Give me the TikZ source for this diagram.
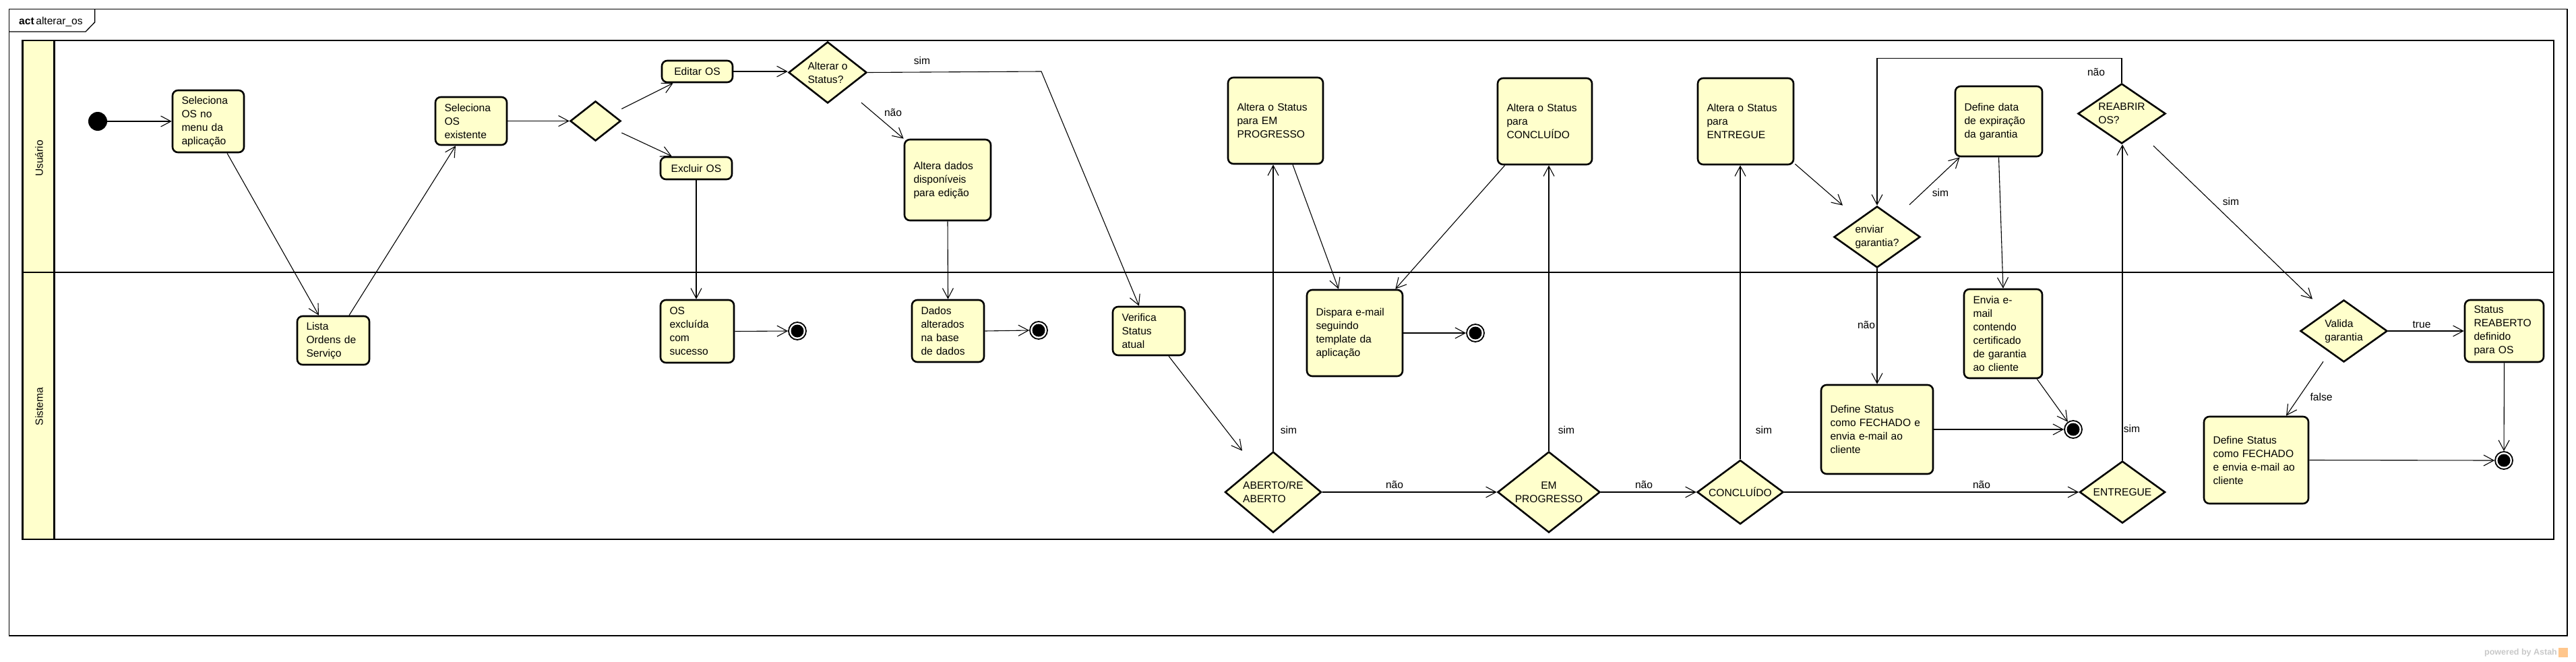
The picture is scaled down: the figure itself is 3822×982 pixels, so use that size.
\documentclass[tikz,border=0pt]{standalone}
\usepackage{fontspec}
\setmainfont{Liberation Sans}
\usetikzlibrary{arrows.meta,shapes.geometric,calc}
\definecolor{uyel}{HTML}{FFFFCC}
\definecolor{wm}{HTML}{C8C8C8}
\newcommand\af{\fontsize{15.6}{20}\selectfont}
\newcommand\LL[1]{\mbox{#1}}
\begin{document}
\begin{tikzpicture}[x=1pt,y=-1pt,
  act/.style={draw, line width=2.6pt, rounded corners=8pt, fill=uyel, inner xsep=13.5pt, inner ysep=0pt, align=left, font=\af},
  actc/.style={act, align=center},
  dia/.style={diamond, draw, line width=2.6pt, fill=uyel, inner sep=0pt},
  lbl/.style={font=\af, inner sep=0pt},
  conn/.style={line width=1.1pt, -{Straight Barb[length=15pt,width=16pt]}},
  initnode/.style={circle, fill=black, minimum size=28pt, inner sep=0pt},
  finnode/.style={circle, draw=black, line width=1.8pt, fill=white, minimum size=26pt, inner sep=0pt,
     path picture={\fill[black] (path picture bounding box.center) circle[radius=9.5pt];}},
]
\useasboundingbox (0,0) rectangle (3822,982);
% frame
\draw[line width=1.3pt] (13.4,13.3) rectangle (3809,943);
\draw[line width=1.3pt] (13.4,47) -- (127,47) -- (140.6,33) -- (140.6,13.3);
\node[lbl, anchor=base west] (title) at (28,37) {\textbf{act}\,alterar\_os};
% lanes
\fill[uyel] (33.5,60) rectangle (80.4,800);
\draw[line width=2.6pt] (33.5,60) rectangle (3789,800);
\draw[line width=2.6pt] (80.4,60) -- (80.4,800);
\draw[line width=2.6pt] (33.5,404) -- (3789,404);
\node[lbl, rotate=90] (lu) at (58,235) {Usuário};
\node[lbl, rotate=90] (ls) at (58,603) {Sistema};
% watermark
\node[font=\bfseries\fontsize{12.5}{14}\selectfont, text=wm, anchor=east, inner sep=0pt] (wmk) at (3794,968) {powered by Astah};
\fill[orange!45] (3796,961) rectangle (3810,975);

% nodes
\node[initnode] (ini) at (145,180) {};
\node[act, text width=79pt, minimum height=92pt] (sel1) at (309,180) {Seleciona\\\LL{OS no}\\\LL{menu da}\\aplicação};
\node[act, text width=80pt, minimum height=72pt] (lista) at (494.5,505) {Lista\\\LL{Ordens de}\\Serviço};
\node[act, text width=79pt, minimum height=71pt] (sel2) at (699,179.5) {Seleciona\\OS\\existente};
\node[dia, minimum width=75pt, minimum height=59pt] (dec1) at (883.5,179.5) {};
\node[actc, text width=78pt, minimum height=32pt] (editar) at (1034.5,106) {\LL{Editar OS}};
\node[actc, text width=79pt, minimum height=33pt] (excluir) at (1033,249.5) {\LL{Excluir OS}};
\node[act, text width=82pt, minimum height=93pt] (excl) at (1034.5,491.5) {OS\\excluída\\com\\sucesso};
\node[finnode] (fin1) at (1183,491) {};
\node[dia, minimum width=116pt, minimum height=91pt, label={[lbl,align=left]center:{Alterar o\\Status?}}] (dAlt) at (1228,107.5) {};
\node[act, text width=101pt, minimum height=120pt] (altd) at (1406,267) {\LL{Altera dados}\\disponíveis\\\LL{para edição}};
\node[act, text width=80pt, minimum height=92pt] (dados) at (1406.5,491) {Dados\\alterados\\\LL{na base}\\\LL{de dados}};
\node[finnode] (fin2) at (1541,490) {};
\node[act, text width=80pt, minimum height=72pt] (verif) at (1704.5,491) {Verifica\\Status\\atual};
\node[dia, minimum width=143pt, minimum height=120pt, label={[lbl,align=left]center:{ABERTO/RE\\ABERTO}}] (dAb) at (1889,730) {};
\node[act, text width=114pt, minimum height=128pt] (emprog) at (1892.5,179) {\LL{Altera o Status}\\\LL{para EM}\\PROGRESSO};
\node[act, text width=115pt, minimum height=128pt] (disp) at (2010,494) {\LL{Dispara e-mail}\\seguindo\\\LL{template da}\\aplicação};
\node[finnode] (fin3) at (2189,494) {};
\node[dia, minimum width=152pt, minimum height=120pt, label={[lbl,align=center]center:{EM\\PROGRESSO}}] (dEm) at (2298,730) {};
\node[act, text width=113pt, minimum height=128pt] (conc) at (2292,180) {\LL{Altera o Status}\\para\\CONCLUÍDO};
\node[dia, minimum width=128pt, minimum height=95pt, label={[lbl]center:CONCLUÍDO}] (dConc) at (2582,730) {};
\node[act, text width=115pt, minimum height=128pt] (entr) at (2590,180) {\LL{Altera o Status}\\para\\ENTREGUE};
\node[dia, minimum width=128pt, minimum height=91pt, label={[lbl,align=left]center:{enviar\\garantia?}}] (dEnv) at (2785,351.5) {};
\node[act, text width=102pt, minimum height=104pt] (defd) at (2965.5,180) {\LL{Define data}\\\LL{de expiração}\\\LL{da garantia}};
\node[act, text width=89pt, minimum height=132pt] (envia) at (2972,495) {\LL{Envia e-}\\mail\\contendo\\certificado\\\LL{de garantia}\\\LL{ao cliente}};
\node[act, text width=139pt, minimum height=132pt] (fech1) at (2785,637) {\LL{Define Status}\\\LL{como FECHADO e}\\\LL{envia e-mail ao}\\cliente};
\node[finnode] (fin4) at (3076,637) {};
\node[dia, minimum width=130pt, minimum height=89pt, label={[lbl,align=left]center:{REABRIR\\OS?}}] (dReab) at (3148,168.5) {};
\node[dia, minimum width=127pt, minimum height=92pt, label={[lbl]center:ENTREGUE}] (dEntr) at (3149,730) {};
\node[dia, minimum width=129pt, minimum height=92pt, label={[lbl,align=left]center:{Valida\\garantia}}] (dVal) at (3477.5,491) {};
\node[act, text width=90pt, minimum height=92pt] (reab) at (3715.5,491) {Status\\REABERTO\\definido\\\LL{para OS}};
\node[finnode] (fin5) at (3715,683) {};
\node[act, text width=128pt, minimum height=129pt] (fech2) at (3347.5,682.5) {\LL{Define Status}\\\LL{como FECHADO}\\\LL{e envia e-mail ao}\\cliente};

% connectors
\draw[conn] (ini.east) -- (sel1.west);
\draw[conn] ($(sel1.south)+(28,0)$) -- ($(lista.north)+(-21.5,0)$);
\draw[conn] ($(lista.north)+(23.5,0)$) -- ($(sel2.south)+(-23,0)$);
\draw[conn] (sel2.east) -- (dec1.west);
\draw[conn] ($(dec1.east)+(0,-18)$) -- ($(editar.south west)+(18,0)$);
\draw[conn] ($(dec1.east)+(0,17.5)$) -- ($(excluir.north west)+(18,0)$);
\draw[conn] (editar.east) -- (editar.east -| dAlt.west);
\draw[conn] (excluir.south) -- (excluir.south |- excl.north);
\draw[conn] (excl.east) -- (fin1.west);
\draw[conn] ($(dAlt.south)+(50,-2)$) -- (altd.north west);
\coordinate (b1) at (1545,106);
\draw[conn] (dAlt.east) -- (b1) -- ($(verif.north)+(-14.5,0)$);
\draw[conn] (altd.south) -- (dados.north);
\draw[conn] (dados.east) -- (fin2.west);
\draw[conn] ($(verif.south)+(29.5,0)$) -- ($(dAb.north)+(-46,0)$);
\draw[conn] (dAb.north) -- (dAb.north |- emprog.south);
\draw[conn] (dAb.east) -- (dEm.west);
\draw[conn] ($(emprog.south)+(25.5,0)$) -- ($(disp.north)+(-24,0)$);
\draw[conn] ($(conc.south west)+(12,0)$) -- ($(disp.north east)+(-12,0)$);
\draw[conn] (disp.east) -- (fin3.west);
\draw[conn] (dEm.north) -- (dEm.north |- conc.south);
\draw[conn] (dEm.east) -- (dConc.west);
\draw[conn] (dConc.north) -- (dConc.north |- entr.south);
\draw[conn] (dConc.east) -- (dEntr.west);
\draw[conn] ($(entr.south east)+(1,-2)$) -- ($(dEnv.north)+(-51,0)$);
\draw[conn] ($(dEnv.north)+(48,-1)$) -- ($(defd.south west)+(8,0)$);
\draw[conn] (dEnv.south) -- (fech1.north);
\draw[conn] (defd.south) -- (envia.north);
\draw[conn] ($(envia.south east)+(-9,0)$) -- (fin4);
\draw[conn] (fech1.east) -- (fin4.west);
\draw[conn] (dEntr.north) -- (dEntr.north |- dReab.south);
\draw[conn] (dReab.north) -- ++(0,-36) -| (dEnv.north);
\draw[conn] ($(dReab.south)+(47,2)$) -- ($(dVal.north)+(-46.5,0)$);
\draw[conn] (dVal.east) -- (reab.west);
\draw[conn] ($(dVal.south)+(-30.5,-2)$) -- ($(fech2.north)+(44.5,0)$);
\draw[conn] (reab.south) -- (fin5.north);
\draw[conn] (fech2.east) -- (fin5.west);

% labels
\node[lbl] (s1) at (1368,90) {sim};
\node[lbl] (n1) at (1325,167) {não};
\node[lbl] (s2) at (1912,638) {sim};
\node[lbl] (n2) at (2069,719) {não};
\node[lbl] (s3) at (2324,638) {sim};
\node[lbl] (n3) at (2439,719) {não};
\node[lbl] (s4) at (2617,638) {sim};
\node[lbl] (n4) at (2940,719) {não};
\node[lbl] (n5) at (2769,482) {não};
\node[lbl] (s5) at (2879,286) {sim};
\node[lbl] (n6) at (3110,107) {não};
\node[lbl] (s6) at (3163,636) {sim};
\node[lbl] (s7) at (3310,299) {sim};
\node[lbl] (t1) at (3593,482) {true};
\node[lbl] (f1) at (3444,589) {false};
\end{tikzpicture}
\end{document}
